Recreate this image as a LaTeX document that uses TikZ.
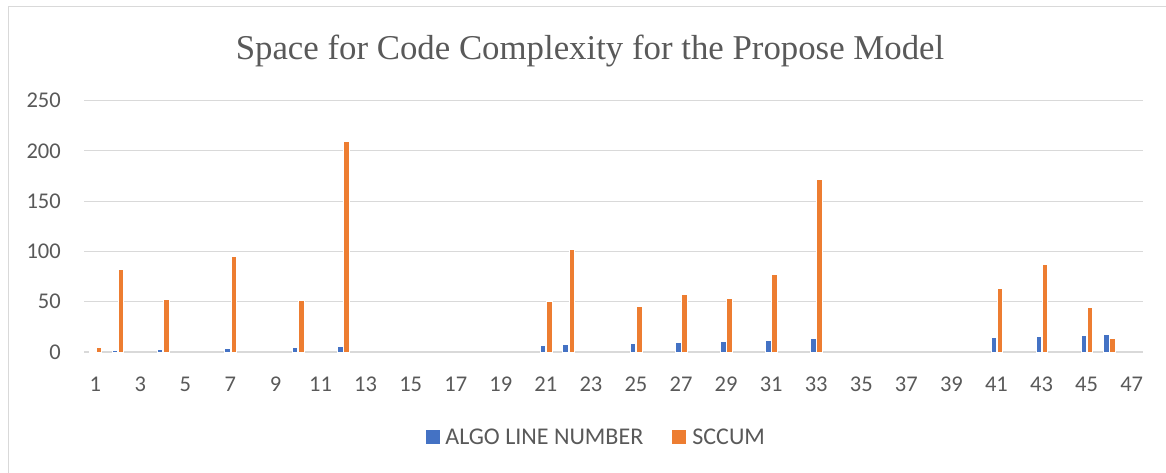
\documentclass[tikz,border=0pt]{standalone}
\usepackage{fontspec}
\setmainfont{Liberation Serif}
\newfontfamily\chartfont{Carlito}
\usetikzlibrary{positioning}
\definecolor{xlblue}{HTML}{4472C4}
\definecolor{xlorange}{HTML}{ED7D31}
\definecolor{xlgrid}{HTML}{D9D9D9}
\definecolor{xltext}{HTML}{595959}

\begin{document}
\begin{tikzpicture}[
  x=1pt, y=-1pt,
  gridline/.style={draw=xlgrid, line width=1.2pt},
  ticklab/.style={font=\chartfont\fontsize{22.5}{22.5}\selectfont, text=xltext, inner sep=0pt},
  bluebar/.style={fill=xlblue, draw=white, line width=0.3pt},
  orangebar/.style={fill=xlorange, draw=white, line width=0.3pt},
  keybox/.style={minimum size=14pt, inner sep=0pt},
  keylab/.style={font=\chartfont\fontsize{24}{24}\selectfont, text=xltext, inner sep=0pt}
]
\useasboundingbox (0,0) rectangle (1166,473);
% chart frame
\draw[xlgrid, line width=1pt] (8,473) -- (8,7) -- (1166,7);

% title
\node[font=\fontsize{34.8}{34.8}\selectfont, text=xltext, anchor=base] (title) at (590,59.5) {Space for Code Complexity for the Propose Model};

% grid and y labels
\foreach \v in {0,50,...,250} {
  \draw[gridline] (84,{352-1.006*\v}) -- (1143,{352-1.006*\v});
  \node[ticklab, anchor=east] (ylab\v) at (61,{352-1.006*\v}) {\v};
}

% x labels
\foreach \i in {1,3,...,47} {
  \node[ticklab] (xlab\i) at ({84+22.53*(\i-0.5)},384.5) {\i};
}

% bars: category/algo line number/sccum
\foreach \c/\b/\o in {1/1/5, 2/2/82, 4/3/53, 7/4/95, 10/5/52, 12/6/210,
    21/7/51, 22/8/102, 25/9/46, 27/10/58, 29/11/54, 31/12/77, 33/14/172,
    41/15/63, 43/16/87, 45/17/45, 46/18/14} {
  \pgfmathsetmacro\cx{84+22.53*(\c-0.5)}
  \path[bluebar] (\cx-5.8,352) rectangle (\cx-0.4,{352-1.006*\b});
  \path[orangebar] (\cx+0.4,352) rectangle (\cx+5.8,{352-1.006*\o});
}

% legend
\node[keybox, fill=xlblue] (keyalgo) at (433,436.5) {};
\node[keylab, right=5pt of keyalgo] (keyalgolab) {ALGO LINE NUMBER};
\node[keybox, fill=xlorange] (keysccum) at (679,436.5) {};
\node[keylab, right=6pt of keysccum] (keysccumlab) {SCCUM};
\end{tikzpicture}
\end{document}
